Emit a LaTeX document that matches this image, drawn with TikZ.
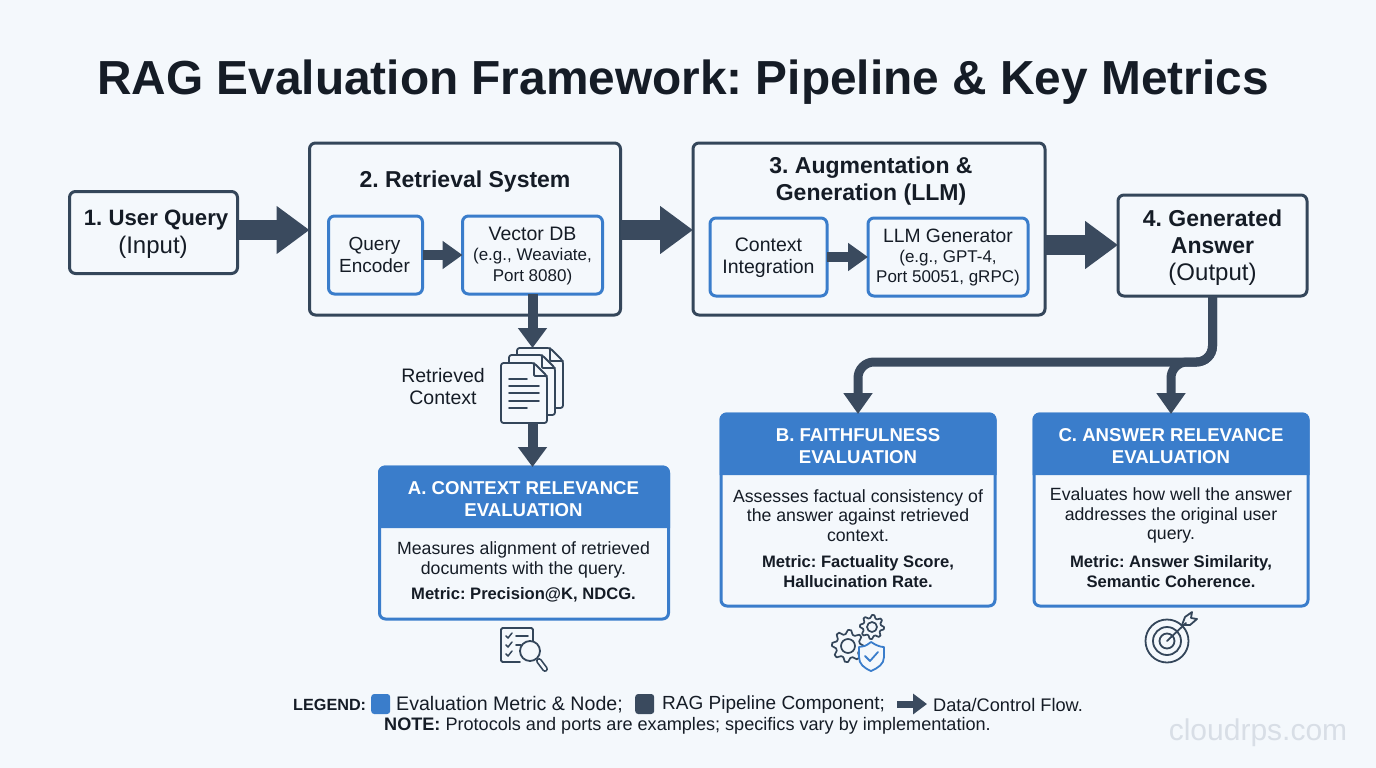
\documentclass[tikz,border=0pt]{standalone}
\usepackage{fontspec}
\setmainfont{Liberation Sans}
\usetikzlibrary{arrows.meta,calc}
\definecolor{bgc}{HTML}{F4F8FC}
\definecolor{dark}{HTML}{3A4A5E}
\definecolor{frame}{HTML}{34465A}
\definecolor{blue1}{HTML}{3A7DCB}
\definecolor{ink}{HTML}{151C26}
\definecolor{wmark}{HTML}{D8DEE6}
\newcommand{\fs}[1]{\fontsize{#1}{#1}\selectfont}
\frenchspacing
\tikzset{
  boxd/.style={draw=frame,line width=3pt,rounded corners=6pt,fill=bgc,inner sep=0pt,outer sep=0pt},
  boxb/.style={draw=blue1,line width=3pt,rounded corners=6pt,fill=bgc,inner sep=0pt,outer sep=0pt},
  txt/.style={text=ink,align=center,inner sep=0pt},
  bigflow/.style={draw=dark,line width=20pt,-{Triangle[length=33pt,width=46pt]}},
  midflow/.style={draw=dark,line width=10pt,-{Triangle[length=20pt,width=27pt]}},
  vflow/.style={draw=dark,line width=10pt,-{Triangle[length=20pt,width=28pt]}},
  branch/.style={draw=dark,line width=9pt,rounded corners=16pt,-{Triangle[length=21pt,width=28pt]}},
  ico/.style={draw=frame,line width=1.8pt,line join=round,line cap=round},
  icob/.style={draw=blue1,line width=1.8pt,line join=round,line cap=round},
}
\newcommand{\docsheet}[2]{%
  \filldraw[ico,fill=bgc,rounded corners=2.5pt] (#1,#2) -- (#1+33,#2) -- (#1+46,#2+13) -- (#1+46,#2+60) -- (#1,#2+60) -- cycle;
  \draw[ico,rounded corners=1pt] (#1+33,#2) -- (#1+33,#2+13) -- (#1+46,#2+13);
}
\newcommand{\gearicon}[5]{%
  \draw[#5,line width=1.7pt] plot[smooth cycle,tension=0.12,samples at={1,...,32},variable=\k]
    ({#1+(mod(\k,4)<2 ? #3 : #3*0.76)*cos(\k*11.25)},{#2+(mod(\k,4)<2 ? #3 : #3*0.76)*sin(\k*11.25)});
  \draw[#5,line width=1.7pt] (#1,#2) circle (#4);
}
\newcommand{\headfill}[4]{%
  \fill[blue1] (#1,#4) [rounded corners=7pt] -- (#1,#3) -- (#2,#3) [sharp corners] -- (#2,#4) -- cycle;
}
\begin{document}
\begin{tikzpicture}[x=1pt,y=-1pt]
\useasboundingbox (0,0) rectangle (1376,768);
\fill[bgc] (0,0) rectangle (1376,768);

\node[txt,font=\bfseries\fs{47.8}] (title) at (683,82.5) {RAG Evaluation Framework: Pipeline \& Key Metrics};

% pipeline boxes
\node[boxd,minimum width=168pt,minimum height=82pt,anchor=north west] (n1) at (69.5,191.5) {};
\node[txt] (n1t) at (153,234) {{\bfseries\fs{22.2} 1. User Query}\\[5pt]{\fs{24}(Input)}};
\node[boxd,minimum width=311pt,minimum height=172pt,anchor=north west] (n2) at (309.5,143) {};
\node[txt,font=\bfseries\fs{23}] (n2t) at (465,182) {2. Retrieval System};
\node[boxb,minimum width=94pt,minimum height=78pt,anchor=north west] (qe) at (328.5,216) {};
\node[txt,font=\fs{19}] (qet) at (374.5,255) {Query\\[3pt]Encoder};
\node[boxb,minimum width=140pt,minimum height=78pt,anchor=north west] (vdb) at (462.5,216) {};
\node[txt,font=\fs{17}] (vdbt) at (532.5,256) {{\fs{19.5}Vector DB}\\[3pt](e.g., Weaviate,\\[3.5pt]Port 8080)};
\node[boxd,minimum width=352pt,minimum height=172pt,anchor=north west] (n3) at (693,143) {};
\node[txt,font=\bfseries\fs{23}] (n3t) at (871,181.5) {3. Augmentation \&\\[4pt]Generation (LLM)};
\node[boxb,minimum width=117pt,minimum height=78pt,anchor=north west] (ci) at (710,218) {};
\node[txt,font=\fs{19.5}] (cit) at (768.5,257.5) {Context\\[2pt]Integration};
\node[boxb,minimum width=160pt,minimum height=78pt,anchor=north west] (llm) at (868,218) {};
\node[txt,font=\fs{17}] (llmt) at (948,257.5) {{\fs{19.3}LLM Generator}\\[3pt](e.g., GPT-4,\\[3.5pt]Port 50051, gRPC)};
\node[boxd,minimum width=189pt,minimum height=101pt,anchor=north west] (n4) at (1118,195) {};
\node[txt,font=\fs{23}] (n4t) at (1212.5,247.5) {{\bfseries 4. Generated}\\[4pt]{\bfseries Answer}\\[4pt]{\fs{24}(Output)}};

% document stack
\node[minimum width=62pt,minimum height=75pt,inner sep=0pt,outer sep=0pt,anchor=north west] (docs) at (501.5,348) {};
\docsheet{517}{348}
\docsheet{509}{355}
\docsheet{501}{363}
\foreach \yy/\xe in {379/527,386/539,393/539,401/539,408/527}{
  \draw[ico] (509,\yy) -- (\xe,\yy);
}
\node[txt,font=\fs{19.5}] (rc) at (443,386.5) {Retrieved\\[2pt]Context};

% evaluation cards
\node[boxb,minimum width=289pt,minimum height=152pt,anchor=north west] (ca) at (379.5,467) {};
\node[boxb,minimum width=274pt,minimum height=192pt,anchor=north west] (cb) at (721,414) {};
\node[boxb,minimum width=274pt,minimum height=192pt,anchor=north west] (cc) at (1034,414) {};
\headfill{378}{670}{465.5}{528}
\headfill{719.5}{996.5}{412.5}{475}
\headfill{1032.5}{1309.5}{412.5}{475}

\tikzset{hd/.style={text=white,align=center,inner sep=0pt,font=\bfseries\fs{18.6}},
  bd/.style={txt,font=\fs{17.7}},bm/.style={txt,font=\bfseries\fs{16.6}}}
\node[hd] (cah) at (523.5,499.5) {A. CONTEXT RELEVANCE\\[3.5pt]EVALUATION};
\node[bd] (cab) at (523.5,559.5) {Measures alignment of retrieved\\[2.3pt]documents with the query.};
\node[bm] (cam) at (523.5,595) {Metric: Precision@K, NDCG.};
\node[hd] (cbh) at (858,446.5) {B. FAITHFULNESS\\[3.5pt]EVALUATION};
\node[bd] (cbb) at (858,515.5) {Assesses factual consistency of\\[2pt]the answer against retrieved\\[2pt]context.};
\node[bm] (cbm) at (858,571.5) {Metric: Factuality Score,\\[3.4pt]Hallucination Rate.};
\node[hd] (cch) at (1171,446.5) {C. ANSWER RELEVANCE\\[3.5pt]EVALUATION};
\node[bd] (ccb) at (1171,515.5) {Evaluates how well the answer\\[2pt]addresses the original user\\[2pt]query.};
\node[bm] (ccm) at (1171,571.5) {Metric: Answer Similarity,\\[3.4pt]Semantic Coherence.};

% connectors
\coordinate (ya) at (0,230);
\coordinate (yb) at (0,245);
\coordinate (h) at (0,362);
\draw[bigflow] (n1.east |- ya) -- (n2.west |- ya);
\draw[bigflow] (n2.east |- ya) -- (n3.west |- ya);
\draw[bigflow] (n3.east |- yb) -- (n4.west |- yb);
\draw[midflow] (qe.east) -- (vdb.west);
\draw[midflow] (ci.east) -- (llm.west);
\draw[vflow] (vdb.south) -- (vdb.south |- docs.north);
\draw[vflow] (docs.south) -- (docs.south |- ca.north);
\draw[branch] (n4.south) -- (n4.south |- h) -- (cb.north |- h) -- (cb.north);
\draw[branch] (n4.south) -- (n4.south |- h) -- (cc.north |- h) -- (cc.north);

% checklist icon
\draw[ico,rounded corners=1.5pt] (520,662) -- (501,662) -- (501,628) -- (533,628) -- (533,641);
\foreach \yy in {636,645,654}{
  \draw[ico,line width=1.5pt] (506,\yy) -- (508,\yy+2) -- (512,\yy-3);
}
\draw[ico] (516,636) -- (528,636);
\draw[ico] (516,645) -- (521,645);
\draw[ico] (530,651) circle (10);
\draw[ico,line width=6pt] (539,661) -- (545,669);
\draw[bgc,line width=2.6pt,line cap=round] (539,661) -- (545,669);

% gears and shield icon
\gearicon{848}{646}{16}{7}{ico}
\gearicon{872}{627}{12}{5}{ico}
\filldraw[icob,fill=bgc] (871,642) .. controls (877,646) and (881,647) .. (884,647) -- (884,657) .. controls (884,664) and (878,668) .. (871,671) .. controls (864,668) and (859,664) .. (859,657) -- (859,647) .. controls (863,647) and (866,646) .. (871,642) -- cycle;
\draw[icob] (865,656) -- (870,661) -- (878,652);

% target icon
\draw[ico] (1167,641) circle (21.5);
\draw[ico] (1167,641) circle (14);
\draw[ico] (1167,641) circle (7.5);
\draw[ico] (1167,641) -- (1186,623);
\draw[ico] (1182,625) -- (1185,617) -- (1192,612) -- (1191,618) -- (1197,619) -- (1190,625) -- cycle;

% legend
\node[txt,font=\bfseries\fs{16.2},anchor=west] (lg) at (293,705) {LEGEND:};
\node[fill=blue1,rounded corners=3pt,minimum width=19pt,minimum height=20pt,inner sep=0pt,anchor=west] (sw1) at (371,704) {};
\node[txt,font=\fs{19.6},anchor=west] (l1) at (396,705) {Evaluation Metric \& Node;};
\node[fill=dark,rounded corners=3pt,minimum width=19pt,minimum height=20pt,inner sep=0pt,anchor=west] (sw2) at (635,704) {};
\node[txt,font=\fs{19},anchor=west] (l2) at (662,705) {RAG Pipeline Component;};
\coordinate (la) at (897,704);
\coordinate (lb) at (927,704);
\draw[draw=dark,line width=7pt,-{Triangle[length=14pt,width=20pt]}] (la) -- (lb);
\node[txt,font=\fs{18.2},anchor=west] (l3) at (933,705) {Data/Control Flow.};
\node[txt,font=\fs{18.1},anchor=west] (note) at (384,726) {{\bfseries NOTE:} Protocols and ports are examples; specifics vary by implementation.};

% watermark
\node[text=wmark,inner sep=0pt,font=\fs{30}] (wm) at (1258,733) {cloudrps.com};
\end{tikzpicture}
\end{document}
